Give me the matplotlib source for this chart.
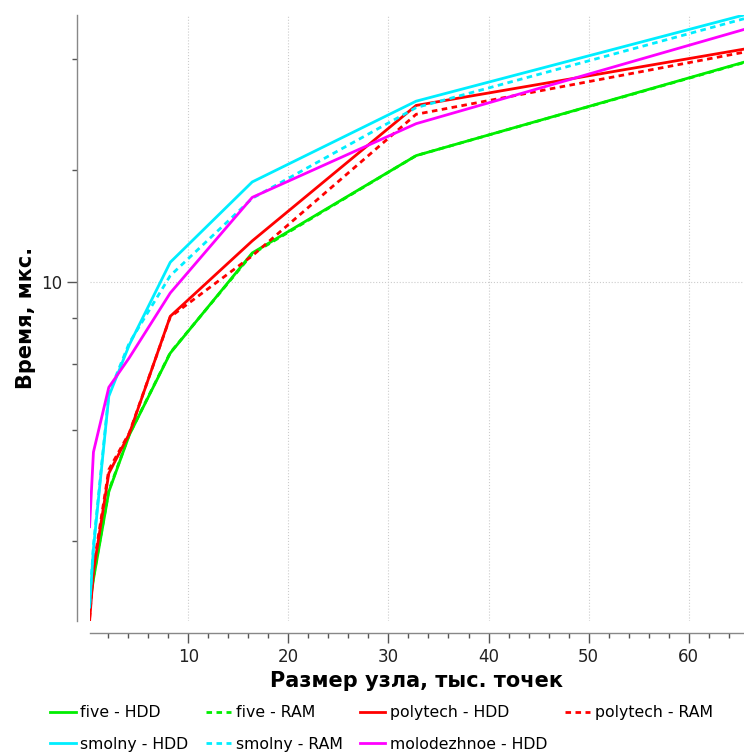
import matplotlib
matplotlib.use("Agg")
import matplotlib.pyplot as plt
from matplotlib.ticker import FixedLocator, NullFormatter, FixedFormatter

# X: node size, thousands of points
x = [0.128, 0.512, 2.048, 4.096, 8.192, 16.384, 32.768, 65.536]

five_hdd = [1.34, 1.58, 2.72, 3.87, 6.43, 11.97, 21.9, 39.1]
five_ram = [1.35, 1.60, 2.74, 3.88, 6.45, 11.90, 21.9, 39.0]
polytech_hdd = [1.22, 1.66, 3.05, 3.90, 8.08, 12.9, 29.9, 42.4]
polytech_ram = [1.24, 1.70, 3.12, 3.92, 8.05, 11.76, 28.3, 41.6]
smolny_hdd = [1.33, 1.91, 4.92, 6.77, 11.3, 18.6, 30.7, 52.4]
smolny_ram = [1.35, 1.95, 5.00, 6.85, 10.4, 16.8, 29.5, 51.2]
molodezhnoe_hdd = [2.19, 3.48, 5.20, 6.25, 9.34, 16.9, 26.7, 47.9]

labels = ["five - HDD", "five - RAM", "polytech - HDD", "polytech - RAM",
          "smolny - HDD", "smolny - RAM", "molodezhnoe - HDD"]
series = [five_hdd, five_ram, polytech_hdd, polytech_ram,
          smolny_hdd, smolny_ram, molodezhnoe_hdd]
colors = ["#00ee00", "#00ee00", "#ff0000", "#ff0000",
          "#00eeff", "#00eeff", "#ff00ff"]
styles = ["-", (0, (2, 1.6)), "-", (0, (2, 1.6)), "-", (0, (2, 1.6)), "-"]

x_major = [10, 20, 30, 40, 50, 60]
x_minor = [2, 4, 6, 8, 12, 14, 16, 18, 22, 24, 26, 28, 32, 34, 36, 38,
           42, 44, 46, 48, 52, 54, 56, 58, 62, 64]
y_major = [10]
y_minor = [2, 4, 6, 8, 20, 40]

fig = plt.figure(figsize=(7.44, 7.54), dpi=100)
ax = fig.add_axes([89.6 / 744, 1 - 621 / 754, 1 - 89.6 / 744, (621 - 15) / 754])

lines = []
for ys_, c, ls, lab in zip(series, colors, styles, labels):
    (ln,) = ax.plot(x, ys_, color=c, linestyle=ls, linewidth=2.0, label=lab)
    lines.append(ln)

ax.set_yscale("log")
ax.set_xlim(min(x), max(x))
ax.set_ylim(min(min(s) for s in series), max(max(s) for s in series))

ax.xaxis.set_major_locator(FixedLocator(x_major))
ax.xaxis.set_minor_locator(FixedLocator(x_minor))
ax.yaxis.set_major_locator(FixedLocator(y_major))
ax.yaxis.set_major_formatter(FixedFormatter(["10"]))
ax.yaxis.set_minor_locator(FixedLocator(y_minor))
ax.yaxis.set_minor_formatter(NullFormatter())

for s in ["top", "right"]:
    ax.spines[s].set_visible(False)
ax.spines["left"].set_position(("outward", 9))
ax.spines["bottom"].set_position(("outward", 8.6))
for s in ["left", "bottom"]:
    ax.spines[s].set_color("#888888")
    ax.spines[s].set_linewidth(1.0)

ax.tick_params(axis="both", which="major", direction="out", length=7,
               width=1.0, color="#555555", labelsize=12, labelcolor="#222222")
ax.tick_params(axis="both", which="minor", direction="out", length=3.5,
               width=1.0, color="#555555")

ax.grid(True, which="major", color="#cccccc", linestyle=":", linewidth=0.8)

ax.set_xlabel("Размер узла, тыс. точек", fontsize=15, fontweight="bold",
              labelpad=4)
ax.set_ylabel("Время, мкс.", fontsize=15, fontweight="bold", labelpad=4)

order = [0, 4, 1, 5, 2, 6, 3]
fig.legend([lines[i] for i in order], [labels[i] for i in order],
           loc="lower center", bbox_to_anchor=(0.513, -0.016), ncol=4,
           frameon=False, fontsize=11.3, handlelength=1.6,
           handletextpad=0.3, columnspacing=1.12, labelspacing=1.05)

fig.savefig("out.png", dpi=100)
